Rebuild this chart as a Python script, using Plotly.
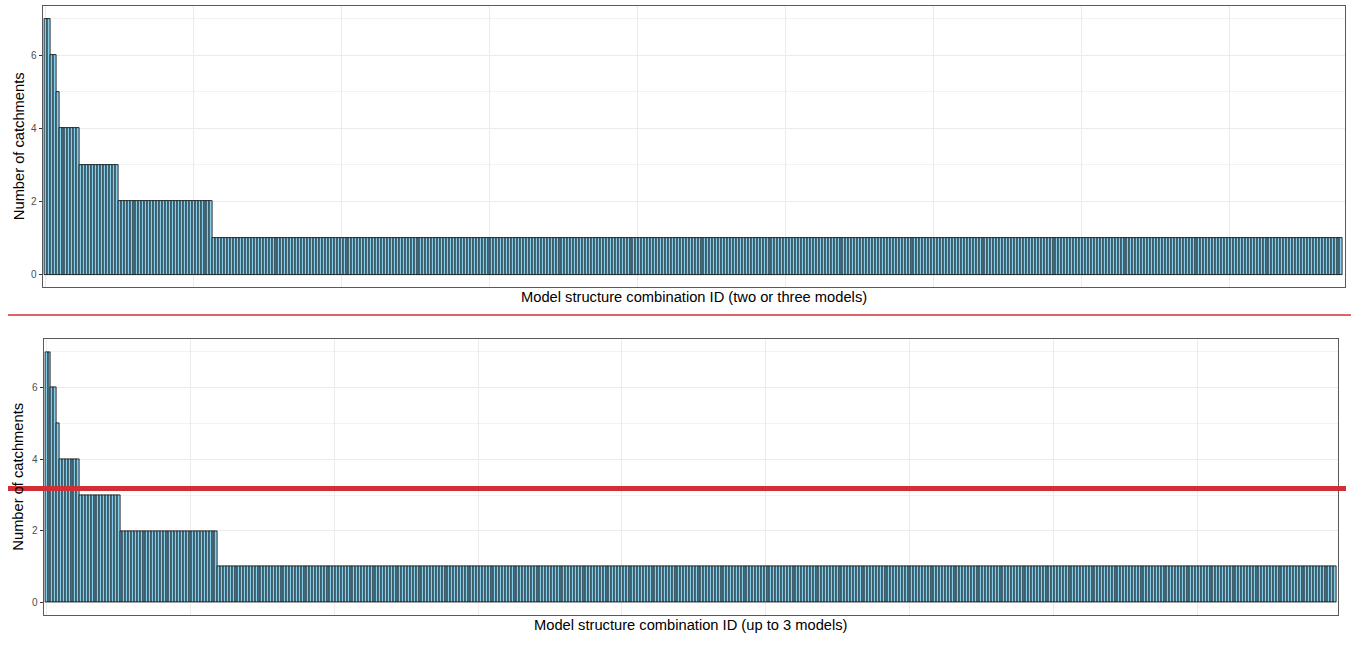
import numpy as np
import plotly.graph_objects as go

# Number of catchments per model-structure combination, sorted descending.
# Stored as run lengths: how many combinations share each catchment count.
count_levels = [7, 6, 5, 4, 3, 2, 1]
runs_two_or_three = [2, 2, 1, 7, 13, 32, 382]
runs_up_to_three = [2, 2, 1, 7, 14, 34, 389]

y_ticks = [0, 2, 4, 6]
y_title = "Number of catchments"
x_title_top = "Model structure combination ID (two or three models)"
x_title_bottom = "Model structure combination ID (up to 3 models)"

top_counts = np.repeat(count_levels, runs_two_or_three)
bottom_counts = np.repeat(count_levels, runs_up_to_three)
top_ids = np.arange(len(top_counts))
bottom_ids = np.arange(len(bottom_counts))

W, H = 1351, 646
BAR_FILL = "#87CEEB"
GRID = "#EBEBEB"
MINOR_GRID = "#F2F2F2"
BORDER = "#5A5A5A"
TICK_TXT = "#4D4D4D"
RED = "#D12F36"
FONT = "Liberation Sans, Arial, sans-serif"
TITLE_SIZE = 14.7

# panel boxes in pixels: (left, right, top, bottom)
top_box = (42.5, 1344.7, 6.0, 287.3)
bot_box = (43.5, 1338.3, 339.3, 615.0)


def xdom(b):
    return [b[0] / W, b[1] / W]


def ydom(b):
    return [1 - b[3] / H, 1 - b[2] / H]


fig = go.Figure()
fig.add_trace(go.Bar(x=top_ids, y=top_counts, width=1, xaxis="x", yaxis="y",
                     marker=dict(color=BAR_FILL, line=dict(color="black", width=0.8)),
                     showlegend=False))
fig.add_trace(go.Bar(x=bottom_ids, y=bottom_counts, width=1, xaxis="x2", yaxis="y2",
                     marker=dict(color=BAR_FILL, line=dict(color="black", width=0.8)),
                     showlegend=False))


def xaxis_cfg(box, n):
    return dict(domain=xdom(box), range=[-1.1, n - 1 + 1.1], dtick=50, tick0=0,
                showticklabels=False, ticks="", showgrid=True, gridcolor=GRID,
                gridwidth=1, zeroline=False, showline=True, mirror=True,
                linecolor=BORDER, linewidth=1)


def yaxis_cfg(box, anchor):
    return dict(domain=ydom(box), range=[-0.35, 7.35], tickvals=y_ticks,
                ticks="outside", ticklen=3, tickcolor="#333333", tickwidth=1,
                tickfont=dict(family=FONT, size=10, color=TICK_TXT),
                showgrid=True, gridcolor=GRID, gridwidth=1, zeroline=False,
                minor=dict(dtick=1, tick0=0, showgrid=True, gridcolor=MINOR_GRID,
                           gridwidth=1, ticks=""),
                showline=True, mirror=True, linecolor=BORDER, linewidth=1,
                anchor=anchor)


fig.update_layout(
    width=W, height=H,
    margin=dict(l=0, r=0, t=0, b=0),
    paper_bgcolor="white", plot_bgcolor="white",
    bargap=0,
    xaxis=dict(**xaxis_cfg(top_box, len(top_counts)), anchor="y"),
    yaxis=yaxis_cfg(top_box, "x"),
    xaxis2=dict(**xaxis_cfg(bot_box, len(bottom_counts)), anchor="y2"),
    yaxis2=yaxis_cfg(bot_box, "x2"),
    font=dict(family=FONT),
)

annotations = []
for box, xt in ((top_box, x_title_top), (bot_box, x_title_bottom)):
    cx = (box[0] + box[1]) / 2 / W
    cy = (box[2] + box[3]) / 2
    annotations.append(dict(text=y_title, textangle=-90, x=18.5 / W, y=1 - cy / H,
                            xref="paper", yref="paper", showarrow=False,
                            xanchor="center", yanchor="middle",
                            font=dict(family=FONT, size=TITLE_SIZE, color="black")))
    annotations.append(dict(text=xt, x=cx, y=1 - (box[3] + 10) / H,
                            xref="paper", yref="paper", showarrow=False,
                            xanchor="center", yanchor="middle",
                            font=dict(family=FONT, size=TITLE_SIZE, color="black")))
fig.update_layout(annotations=annotations)

# red separator lines
fig.add_shape(type="line", xref="paper", yref="paper",
              x0=8 / W, x1=1.0, y0=1 - 315 / H, y1=1 - 315 / H,
              line=dict(color=RED, width=1.6))
fig.add_shape(type="line", xref="paper", yref="paper",
              x0=8 / W, x1=1346 / W, y0=1 - 488.5 / H, y1=1 - 488.5 / H,
              line=dict(color=RED, width=5))

fig.write_html("out.html")
